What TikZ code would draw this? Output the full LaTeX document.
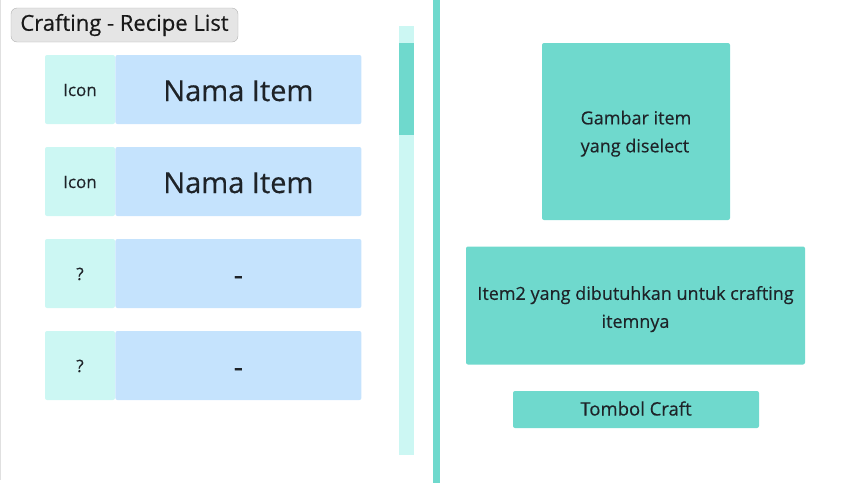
\documentclass[tikz,border=0pt]{standalone}
\usepackage{fontspec}
\setmainfont{Open Sans}[FakeBold=0.35]
\usepackage{tikz}
\usetikzlibrary{positioning}
\definecolor{mint}{RGB}{111,217,205}
\definecolor{iconbg}{RGB}{204,247,243}
\definecolor{namebg}{RGB}{197,227,253}
\definecolor{ink}{RGB}{30,35,40}
\definecolor{btngray}{RGB}{229,229,229}
\tikzstyle{icon}=[fill=iconbg, rounded corners=2pt, minimum width=70pt, minimum height=69pt, inner sep=0pt, text=ink, text height=14pt, text depth=1pt, font=\fontsize{17}{20}\selectfont]
\tikzstyle{nama}=[fill=namebg, rounded corners=2pt, minimum width=246pt, minimum height=69pt, inner sep=0pt, text=ink, text height=25pt, text depth=2pt, font=\fontsize{29}{32}\selectfont]
\tikzstyle{panel}=[fill=mint, rounded corners=2pt, inner sep=0pt, text=ink, font=\fontsize{18}{28}\selectfont]
\tikzstyle{bar}=[inner sep=0pt, minimum width=15pt]

\begin{document}
\begin{tikzpicture}[x=1pt,y=-1pt]
    \useasboundingbox (0,0) rectangle (841,483);
    \draw[black!12] (0.5,0) -- (0.5,480);
    % recipe list
    \node [draw=black!30, fill=btngray, rounded corners=6pt, minimum width=227pt, minimum height=34pt, inner sep=0pt, text=black!90, font=\fontsize{22}{24}\selectfont] (title) at (124.5,25) {Crafting - Recipe List};
    \node [icon] (i1) at (80,89.5) {Icon};
    \node [nama] (n1) [right=0pt of i1] {Nama Item};
    \node [icon] (i2) at (80,181.5) {Icon};
    \node [nama] (n2) [right=0pt of i2] {Nama Item};
    \node [icon] (i3) at (80,273.5) {?};
    \node [nama] (n3) [right=0pt of i3] {-};
    \node [icon] (i4) at (80,365.5) {?};
    \node [nama] (n4) [right=0pt of i4] {-};
    % scrollbar
    \node [bar, fill=iconbg, minimum height=429pt] (track) at (406.5,240.5) {};
    \node [bar, fill=mint, minimum height=92pt] (thumb) at (406.5,89) {};
    \node [fill=mint, inner sep=0pt, minimum width=7pt, minimum height=483pt] (divider) at (436.5,241.5) {};
    % detail
    \node [panel, minimum width=188pt, minimum height=177pt, align=left] (gambar) at (636,131.5) {\rule{0pt}{18pt}Gambar item\\yang diselect};
    \node [panel, minimum width=339pt, minimum height=118pt, align=center] (bahan) at (635.5,305.5) {\rule{0pt}{21pt}Item2 yang dibutuhkan untuk crafting\\itemnya};
    \node [panel, minimum width=246pt, minimum height=37pt, text height=13pt, text depth=1pt, font=\fontsize{18.5}{28}\selectfont] (tombol) at (636,409.5) {Tombol Craft};

\end{tikzpicture}
\end{document}
